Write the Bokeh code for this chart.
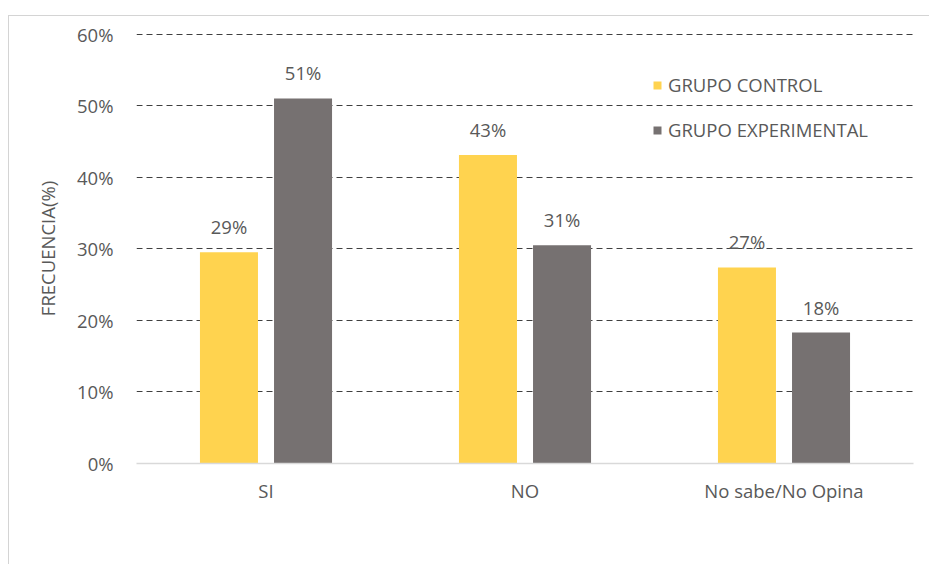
from bokeh.plotting import figure
from bokeh.models import ColumnDataSource, NumeralTickFormatter, FixedTicker, Legend, LegendItem, LabelSet
from bokeh.transform import dodge
from bokeh.core.properties import value
from bokeh.embed import file_html
from bokeh.resources import INLINE

categories = ["SI", "NO", "No sabe/No Opina"]
control = [0.295, 0.431, 0.274]
experimental = [0.510, 0.305, 0.183]
control_labels = ["29%", "43%", "27%"]
experimental_labels = ["51%", "31%", "18%"]
y_ticks = [0.0, 0.1, 0.2, 0.3, 0.4, 0.5, 0.6]

FONT = "Open Sans"
FS = "18.5px"
TXT = "#595959"

src = ColumnDataSource(dict(cat=categories, control=control, experimental=experimental,
                            cl=control_labels, el=experimental_labels))

p = figure(x_range=categories, y_range=(0, 0.6008), width=921, height=549,
           output_backend="svg", toolbar_location=None,
           min_border_left=127, min_border_right=17, min_border_top=17, min_border_bottom=102)
p.styles = {"border-left": "1px solid #d4d4d4", "border-top": "1px solid #d4d4d4"}
p.margin = (15, 0, 0, 8)
p.outline_line_color = None
p.x_range.range_padding = 0

r1 = p.vbar(x=dodge("cat", -0.143, range=p.x_range), top="control", width=0.224,
            source=src, color="#FFD34F", line_color=None)
r2 = p.vbar(x=dodge("cat", 0.143, range=p.x_range), top="experimental", width=0.224,
            source=src, color="#767171", line_color=None)

l1 = LabelSet(x=dodge("cat", -0.143, range=p.x_range), y="control", text="cl", source=src,
              text_align="center", y_offset=13, text_font=value(FONT), text_font_size=value(FS),
              text_color=value(TXT))
l2 = LabelSet(x=dodge("cat", 0.143, range=p.x_range), y="experimental", text="el", source=src,
              text_align="center", y_offset=13, text_font=value(FONT), text_font_size=value(FS),
              text_color=value(TXT))
p.add_layout(l1)
p.add_layout(l2)

p.yaxis.ticker = FixedTicker(ticks=y_ticks)
p.yaxis.formatter = NumeralTickFormatter(format="0%")
p.yaxis.axis_line_color = None
p.yaxis.major_tick_line_color = None
p.yaxis.minor_tick_line_color = None
p.yaxis.major_label_standoff = 17
p.yaxis.major_label_text_font = FONT
p.yaxis.major_label_text_font_size = FS
p.yaxis.major_label_text_color = TXT
p.yaxis.axis_label = "FRECUENCIA(%)"
p.yaxis.axis_label_text_font = FONT
p.yaxis.axis_label_text_font_size = FS
p.yaxis.axis_label_text_font_style = "normal"
p.yaxis.axis_label_text_color = TXT
p.yaxis.axis_label_standoff = 14

p.xaxis.axis_line_color = "#D9D9D9"
p.xaxis.axis_line_width = 1.5
p.xaxis.major_tick_line_color = None
p.xaxis.minor_tick_line_color = None
p.xaxis.major_label_standoff = 8
p.xaxis.major_label_text_font = FONT
p.xaxis.major_label_text_font_size = FS
p.xaxis.major_label_text_color = TXT

p.xgrid.grid_line_color = None
p.ygrid.ticker = FixedTicker(ticks=y_ticks[1:])
p.ygrid.grid_line_color = "#404040"
p.ygrid.grid_line_dash = "6 4"
p.ygrid.grid_line_width = 1.2

legend = Legend(items=[LegendItem(label="GRUPO CONTROL", renderers=[r1]),
                       LegendItem(label="GRUPO EXPERIMENTAL", renderers=[r2])],
                location=(516, 321), padding=0, margin=0, spacing=20,
                glyph_width=10, glyph_height=10, label_height=20, label_standoff=6,
                label_text_font=FONT, label_text_font_size=FS, label_text_color=TXT,
                border_line_color=None, background_fill_alpha=0)
p.add_layout(legend)

open("out.html", "w").write(file_html(p, INLINE))
